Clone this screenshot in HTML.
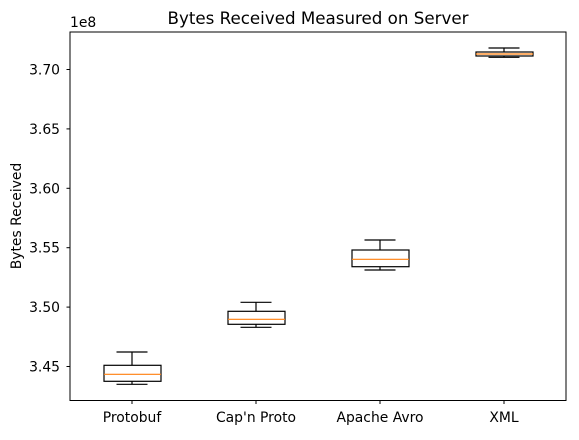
<!DOCTYPE html>
<html><head><style>html,body{margin:0;padding:0;background:#fff}</style></head><body>
<svg width="579" height="435" viewBox="0 0 579 435" xmlns="http://www.w3.org/2000/svg" font-family="DejaVu Sans, Liberation Sans, sans-serif">
<rect width="579" height="435" fill="#fff"/>
<text x="318" y="24" font-size="16.7" text-anchor="middle">Bytes Received Measured on Server</text>
<text x="70" y="27" font-size="13.9">1e8</text>
<text transform="translate(21,216) rotate(-90)" font-size="13.9" text-anchor="middle">Bytes Received</text>
<g stroke="#000" stroke-width="1">
<line x1="66.5" y1="366.5" x2="70" y2="366.5"/>
<line x1="66.5" y1="307.1" x2="70" y2="307.1"/>
<line x1="66.5" y1="247.7" x2="70" y2="247.7"/>
<line x1="66.5" y1="188.3" x2="70" y2="188.3"/>
<line x1="66.5" y1="128.9" x2="70" y2="128.9"/>
<line x1="66.5" y1="69.5" x2="70" y2="69.5"/>
<line x1="132" y1="400.5" x2="132" y2="404"/>
<line x1="256" y1="400.5" x2="256" y2="404"/>
<line x1="380" y1="400.5" x2="380" y2="404"/>
<line x1="504" y1="400.5" x2="504" y2="404"/>
</g>
<g font-size="13.9" text-anchor="end">
<text x="60" y="371.5">3.45</text>
<text x="60" y="312.1">3.50</text>
<text x="60" y="252.7">3.55</text>
<text x="60" y="193.3">3.60</text>
<text x="60" y="133.9">3.65</text>
<text x="60" y="74.5">3.70</text>
</g>
<g font-size="13.9" text-anchor="middle">
<text x="132" y="422">Protobuf</text>
<text x="256" y="422">Cap'n Proto</text>
<text x="380" y="422">Apache Avro</text>
<text x="504" y="422">XML</text>
</g>
<g fill="none" stroke="#000" stroke-width="1.2">
<rect x="104" y="365.3" width="57" height="16"/>
<line x1="132" y1="365.3" x2="132" y2="352"/><line x1="116.5" y1="352" x2="147.5" y2="352"/>
<line x1="132" y1="381.3" x2="132" y2="384.3"/><line x1="116.5" y1="384.3" x2="147.5" y2="384.3"/>
<rect x="228" y="311.3" width="57" height="13"/>
<line x1="256" y1="311.3" x2="256" y2="302.3"/><line x1="240.5" y1="302.3" x2="271.5" y2="302.3"/>
<line x1="256" y1="324.3" x2="256" y2="327.3"/><line x1="240.5" y1="327.3" x2="271.5" y2="327.3"/>
<rect x="352" y="250" width="57" height="16.7"/>
<line x1="380" y1="250" x2="380" y2="240"/><line x1="364.5" y1="240" x2="395.5" y2="240"/>
<line x1="380" y1="266.7" x2="380" y2="270"/><line x1="364.5" y1="270" x2="395.5" y2="270"/>
<rect x="476" y="52" width="57" height="4"/>
<line x1="504" y1="52" x2="504" y2="48"/><line x1="488.5" y1="48" x2="519.5" y2="48"/>
<line x1="504" y1="56" x2="504" y2="57.3"/><line x1="488.5" y1="57.3" x2="519.5" y2="57.3"/>
</g>
<g stroke="#ff7f0e" stroke-width="1.2">
<line x1="104" y1="374.3" x2="161" y2="374.3"/>
<line x1="228" y1="319.3" x2="285" y2="319.3"/>
<line x1="352" y1="259.3" x2="409" y2="259.3"/>
<line x1="476" y1="54" x2="533" y2="54"/>
</g>
<rect x="70" y="32" width="496" height="368.5" fill="none" stroke="#000" stroke-width="1"/>
</svg>
</body></html>
